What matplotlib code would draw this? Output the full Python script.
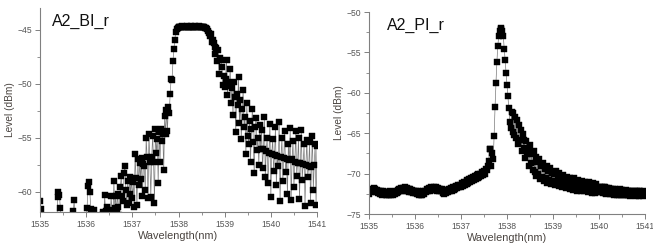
import numpy as np
import matplotlib
matplotlib.use("Agg")
import matplotlib.pyplot as plt
from matplotlib.ticker import MultipleLocator

plt.rcParams['font.family'] = ['Liberation Sans', 'DejaVu Sans']

# ---------------- data ----------------
bi_title = "A2_BI_r"
pi_title = "A2_PI_r"
x_label = "Wavelength(nm)"
y_label = "Level (dBm)"

# A2_BI_r : sampled every 0.02 nm from 1535 to 1541
bi_wl = np.round(np.arange(1535.0, 1541.0001, 0.02), 2)
bi_level = [
    -60.9, -61.6, -63.5, -64.5, -63.0, -65.0, -64.0, -63.5, -64.5, -65.0,
    -64.0, -63.0, -64.5, -65.0, -64.0, -63.5, -64.0, -63.0, -64.0, -60.5,
    -60.0, -60.3, -61.5, -63.0, -64.0, -65.0, -63.0, -64.0, -65.0, -63.5,
    -64.0, -63.0, -64.5, -63.5, -62.5, -64.0, -61.8, -60.8, -63.0, -64.5,
    -65.0, -63.5, -64.0, -63.0, -64.5, -65.0, -64.0, -63.0, -64.5, -63.0,
    -62.5, -61.5, -59.5, -59.1, -60.0, -61.6, -62.5, -61.8, -61.7, -63.0,
    -64.0, -63.0, -64.5, -63.5, -62.5, -64.0, -63.0, -62.2, -61.9, -63.0,
    -60.3, -61.8, -63.0, -61.4, -62.5, -61.7, -62.8, -60.4, -61.9, -62.6,
    -59.0, -61.5, -60.4, -62.0, -60.2, -61.4, -62.2, -59.6, -58.5, -60.4,
    -60.9, -58.3, -57.6, -59.8, -61.2, -59.0, -61.0, -58.6, -60.2, -58.9,
    -60.6, -59.1, -61.4, -56.5, -58.7, -61.2, -57.0, -59.4, -57.3, -58.8,
    -56.9, -60.4, -57.4, -57.6, -59.8, -55.0, -56.8, -60.6, -54.6, -57.2,
    -60.5, -56.8, -54.8, -57.2, -61.0, -54.2, -56.4, -55.1, -59.2, -54.5,
    -57.2, -54.2, -55.3, -54.6, -58.0, -53.0, -54.6, -52.4, -54.4, -52.1,
    -52.7, -50.9, -49.5, -49.6, -47.9, -46.8, -45.9, -45.2, -44.9, -44.8,
    -44.75, -44.7, -44.7, -44.7, -44.65, -44.7, -44.7, -44.7, -44.7, -44.65,
    -44.7, -44.7, -44.7, -44.65, -44.7, -44.7, -44.7, -44.7, -44.65, -44.7,
    -44.7, -44.7, -44.65, -44.7, -44.7, -44.7, -44.75, -44.7, -44.7, -44.8,
    -44.8, -44.9, -45.1, -45.3, -45.6, -45.4, -46.1, -45.9, -46.2, -46.6,
    -47.2, -46.7, -47.9, -46.9, -49.1, -47.6, -47.8, -48.4, -50.1, -49.3,
    -50.3, -49.5, -47.8, -51.0, -49.8, -50.2, -48.6, -51.8, -50.4, -52.9,
    -49.8, -51.2, -54.5, -50.9, -52.0, -49.4, -53.6, -51.5, -55.1, -52.3,
    -50.6, -54.0, -53.1, -56.5, -51.8, -54.8, -55.6, -53.4, -57.2, -54.2,
    -52.3, -55.4, -58.3, -54.0, -53.2, -56.1, -55.0, -57.5, -53.8, -56.0,
    -54.3, -57.8, -56.0, -53.1, -58.6, -56.2, -55.0, -59.2, -56.4, -53.7,
    -60.5, -56.5, -55.1, -58.1, -56.6, -54.0, -59.4, -56.7, -57.6, -53.5,
    -60.9, -56.8, -55.0, -59.0, -56.9, -54.4, -58.2, -57.0, -60.2, -55.6,
    -57.1, -54.1, -60.8, -57.0, -55.3, -59.6, -57.2, -54.4, -58.5, -57.3,
    -55.0, -60.7, -57.3, -54.3, -58.9, -57.4, -55.6, -61.3, -57.5, -55.2,
    -58.6, -57.6, -55.4, -61.0, -57.7, -54.8, -59.8, -57.5, -55.6, -61.2,
    -55.8,
]

# A2_PI_r : sampled every 0.02 nm from 1535 to 1541
pi_wl = np.round(np.arange(1535.0, 1541.0001, 0.02), 2)
pi_level = [
    -72.5, -72.1, -72.3, -71.9, -72.2, -71.8, -72.1, -71.9, -72.3, -72.0,
    -72.4, -72.1, -72.5, -72.2, -72.6, -72.2, -72.5, -72.3, -72.6, -72.3,
    -72.7, -72.3, -72.6, -72.2, -72.6, -72.3, -72.7, -72.3, -72.5, -72.2,
    -72.4, -72.0, -72.3, -71.9, -72.2, -71.8, -72.1, -71.8, -72.0, -71.7,
    -72.1, -71.8, -72.1, -71.9, -72.3, -71.9, -72.3, -72.0, -72.4, -72.1,
    -72.4, -72.1, -72.5, -72.2, -72.7, -72.3, -72.7, -72.3, -72.6, -72.2,
    -72.5, -72.1, -72.3, -71.9, -72.2, -71.8, -72.1, -71.7, -72.0, -71.8,
    -72.0, -71.6, -71.9, -71.7, -72.1, -71.8, -72.1, -71.9, -72.2, -71.9,
    -72.4, -72.0, -72.5, -72.1, -72.4, -72.0, -72.3, -71.9, -72.2, -71.8,
    -72.1, -71.7, -72.0, -71.6, -71.9, -71.5, -71.8, -71.4, -71.7, -71.4,
    -71.6, -71.2, -71.5, -71.0, -71.4, -71.0, -71.3, -70.8, -71.2, -70.7,
    -71.1, -70.6, -70.9, -70.4, -70.8, -70.3, -70.7, -70.2, -70.6, -70.1,
    -70.4, -70.0, -70.3, -69.8, -70.2, -69.7, -70.0, -69.4, -69.6, -69.0,
    -68.5, -67.0, -66.9, -69.0, -67.4, -68.2, -65.3, -61.8, -58.8, -56.2,
    -54.2, -53.0, -52.3, -52.0, -52.1, -52.3, -53.0, -54.6, -56.0, -57.6,
    -59.0, -60.4, -61.9, -63.6, -64.4, -62.4, -64.9, -62.5, -65.2, -63.0,
    -65.6, -63.4, -66.3, -64.0, -65.9, -64.6, -67.2, -65.1, -66.8, -65.9,
    -68.1, -66.0, -67.6, -66.9, -69.1, -66.5, -68.7, -67.6, -69.6, -67.2,
    -69.8, -68.0, -70.3, -68.6, -70.1, -68.2, -70.7, -69.0, -70.4, -68.7,
    -70.9, -69.4, -70.6, -69.0, -71.2, -69.7, -70.8, -69.3, -71.3, -69.9,
    -70.9, -70.0, -71.4, -69.7, -71.1, -70.4, -71.5, -69.9, -71.2, -70.5,
    -71.6, -70.2, -71.3, -70.7, -71.8, -70.4, -71.5, -70.9, -71.9, -70.5,
    -71.6, -71.0, -72.0, -70.6, -71.7, -71.1, -72.1, -70.8, -71.8, -71.2,
    -72.1, -70.9, -71.8, -71.3, -72.2, -71.0, -71.9, -71.4, -72.3, -71.1,
    -72.0, -71.5, -72.4, -71.2, -72.1, -71.6, -72.4, -71.3, -72.0, -71.7,
    -72.3, -71.6, -72.3, -71.6, -72.4, -71.7, -72.4, -71.7, -72.5, -71.8,
    -72.4, -71.8, -72.5, -71.9, -72.5, -71.9, -72.6, -71.9, -72.5, -72.0,
    -72.6, -72.0, -72.6, -71.9, -72.7, -72.0, -72.7, -72.1, -72.6, -72.0,
    -72.7, -72.1, -72.6, -72.1, -72.8, -72.1, -72.7, -72.2, -72.7, -72.1,
    -72.8, -72.2, -72.7, -72.1, -72.8, -72.2, -72.7, -72.3, -72.8, -72.2,
    -72.5,
]

x_ticks = [1535, 1536, 1537, 1538, 1539, 1540, 1541]
bi_yticks = [-45, -50, -55, -60]
pi_yticks = [-50, -55, -60, -65, -70, -75]

# ---------------- figure ----------------
W, H = 653, 249
fig = plt.figure(figsize=(W / 100, H / 100), dpi=100)

ax1 = fig.add_axes([40 / W, 1 - 212 / H, 277 / W, 204 / H])
ax2 = fig.add_axes([369 / W, 1 - 214 / H, 276 / W, 202 / H])

spine_c = '#808080'
lab_c = '#4a4440'
tick_c = '#555555'

def style(ax, yticks, ylim, title, tx):
    ax.set_xlim(1535, 1541)
    ax.set_ylim(*ylim)
    ax.set_xticks(x_ticks)
    ax.set_yticks(yticks)
    ax.xaxis.set_minor_locator(MultipleLocator(0.5))
    ax.yaxis.set_minor_locator(MultipleLocator(2.5))
    for s in ('top', 'right'):
        ax.spines[s].set_visible(False)
    for s in ('left', 'bottom'):
        ax.spines[s].set_color(spine_c)
        ax.spines[s].set_linewidth(0.8)
    ax.tick_params(which='major', direction='out', length=3.5, width=0.7,
                   color=spine_c, labelsize=6.2, labelcolor=tick_c, pad=2)
    ax.tick_params(which='minor', direction='out', length=2, width=0.6,
                   color=spine_c)
    ax.set_xlabel(x_label, fontsize=7.8, color=lab_c, labelpad=2)
    ax.set_ylabel(y_label, fontsize=7.3, color=lab_c, labelpad=2)
    ax.text(tx, 0.97, title, transform=ax.transAxes, fontsize=11.5,
            color='#111111', va='top', ha='left')

ax1.plot(bi_wl, bi_level, color='#7a7a7a', linewidth=0.5,
         marker='s', markersize=4.2, markerfacecolor='black',
         markeredgecolor='black', markeredgewidth=0.3)
style(ax1, bi_yticks, (-61.88, -42.96), bi_title, 0.045)

ax2.plot(pi_wl, pi_level, color='#7a7a7a', linewidth=0.5,
         marker='s', markersize=4.2, markerfacecolor='black',
         markeredgecolor='black', markeredgewidth=0.3)
style(ax2, pi_yticks, (-75, -50), pi_title, 0.065)

fig.savefig('out.png', dpi=100)
